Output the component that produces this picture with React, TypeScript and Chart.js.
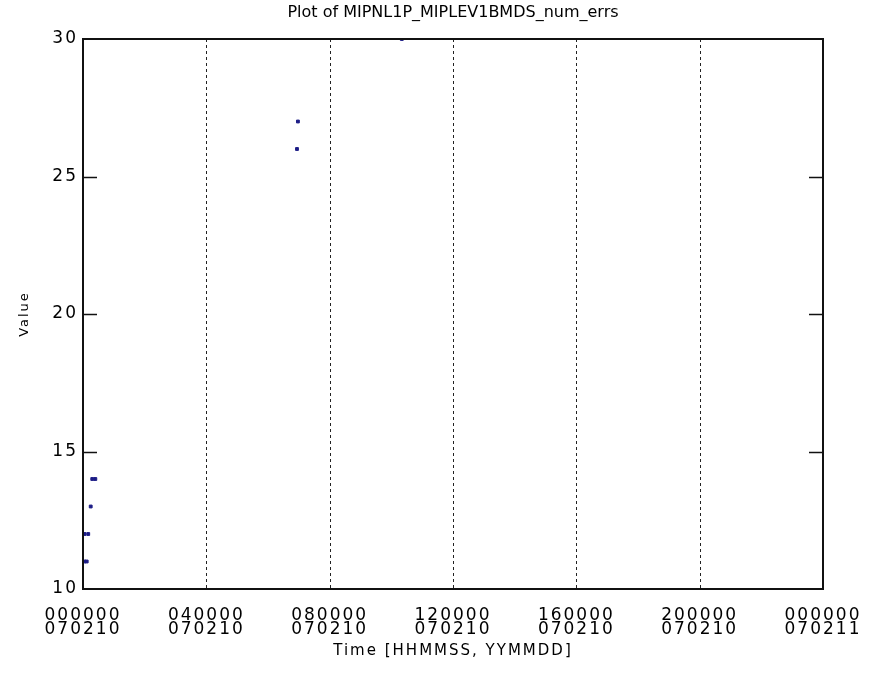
import React, { useEffect, useRef } from "react";
import { Chart, registerables } from "chart.js";

Chart.register(...registerables);

// Time in hours after 000000 on 070210
const pointHours: number[] = [0.05, 0.12, 0.05, 0.17, 0.25, 0.3, 0.4, 6.94, 6.97, 10.34];
const pointValues: number[] = [11, 11, 12, 12, 13, 14, 14, 26, 27, 30];
const xTickHours: number[] = [0, 4, 8, 12, 16, 20, 24];
const xTickLabels: string[][] = [
  ["000000", "070210"],
  ["040000", "070210"],
  ["080000", "070210"],
  ["120000", "070210"],
  ["160000", "070210"],
  ["200000", "070210"],
  ["000000", "070211"],
];
const yTicks: number[] = [10, 15, 20, 25, 30];
const titleText = "Plot of MIPNL1P_MIPLEV1BMDS_num_errs";
const xTitle = "Time [HHMMSS, YYMMDD]";
const yTitle = "Value";

const FONT = "'DejaVu Sans', sans-serif";

const framePlugin = {
  id: "frame",
  beforeDraw(chart: any) {
    chart.ctx.letterSpacing = "2px";
  },
  beforeDatasetsDraw(chart: any) {
    const { ctx, chartArea, scales } = chart;
    const { left, right, top, bottom } = chartArea;
    ctx.save();
    ctx.strokeStyle = "#222";
    ctx.lineWidth = 1;
    ctx.setLineDash([3, 3]);
    xTickHours.forEach((h) => {
      if (h === 0 || h === 24) return;
      const x = Math.round(scales.x.getPixelForValue(h)) + 0.5;
      ctx.beginPath();
      ctx.moveTo(x, top);
      ctx.lineTo(x, bottom);
      ctx.stroke();
    });
    ctx.setLineDash([]);
    ctx.strokeStyle = "#111";
    ctx.lineWidth = 1.5;
    yTicks.forEach((v) => {
      if (v === 10 || v === 30) return;
      const y = Math.round(scales.y.getPixelForValue(v)) + 0.5;
      ctx.beginPath();
      ctx.moveTo(left, y);
      ctx.lineTo(left + 14, y);
      ctx.moveTo(right, y);
      ctx.lineTo(right - 14, y);
      ctx.stroke();
    });
    ctx.restore();
  },
  afterDatasetsDraw(chart: any) {
    const { ctx, chartArea } = chart;
    const { left, right, top, bottom } = chartArea;
    ctx.save();
    ctx.strokeStyle = "#111";
    ctx.lineWidth = 2;
    ctx.strokeRect(left, top, right - left, bottom - top);
    ctx.restore();
  },
  afterDraw(chart: any) {
    const { ctx, chartArea } = chart;
    ctx.save();
    ctx.letterSpacing = "0px";
    ctx.fillStyle = "#000";
    ctx.font = `16px ${FONT}`;
    ctx.textAlign = "center";
    ctx.textBaseline = "middle";
    ctx.fillText(titleText, (chartArea.left + chartArea.right) / 2, 13);
    ctx.restore();
    ctx.letterSpacing = "0px";
  },
};

export default function App() {
  const ref = useRef<HTMLCanvasElement>(null);
  useEffect(() => {
    if (!ref.current) return;
    const chart = new Chart(ref.current, {
      type: "scatter",
      data: {
        datasets: [
          {
            data: pointHours.map((h, i) => ({ x: h, y: pointValues[i] })),
            backgroundColor: "#1c1c86",
            borderColor: "#1c1c86",
            pointRadius: 2,
            pointStyle: "rect",
            borderWidth: 1,
          },
        ],
      },
      options: {
        responsive: false,
        animation: false,
        devicePixelRatio: 1,
        layout: { padding: { left: 0, right: 50, top: 39, bottom: 0 } },
        plugins: {
          legend: { display: false },
          tooltip: { enabled: false },
          title: { display: false },
        },
        scales: {
          x: {
            type: "linear",
            min: 0,
            max: 24,
            afterFit: (s: any) => {
              s.height = 98;
              s.paddingLeft = 0;
              s.paddingRight = 0;
            },
            afterBuildTicks: (s: any) => {
              s.ticks = xTickHours.map((v) => ({ value: v }));
            },
            ticks: {
              color: "#000",
              font: { family: FONT, size: 17, lineHeight: 0.85 },
              padding: 19,
              maxRotation: 0,
              autoSkip: false,
              callback: (v: any) => {
                const i = xTickHours.indexOf(Number(v));
                return i >= 0 ? xTickLabels[i] : "";
              },
            },
            grid: { display: false, drawTicks: false },
            border: { display: false },
            title: {
              display: true,
              text: xTitle,
              color: "#000",
              font: { family: FONT, size: 15 },
              padding: { top: 0, bottom: 27 },
            },
          },
          y: {
            type: "linear",
            min: 10,
            max: 30,
            afterFit: (s: any) => {
              s.width = 83;
              s.paddingTop = 0;
              s.paddingBottom = 0;
            },
            afterBuildTicks: (s: any) => {
              s.ticks = yTicks.map((v) => ({ value: v }));
            },
            ticks: {
              color: "#000",
              font: { family: FONT, size: 17 },
              padding: 5,
            },
            grid: { display: false, drawTicks: false },
            border: { display: false },
            title: {
              display: true,
              text: yTitle,
              color: "#000",
              font: { family: FONT, size: 13 },
              padding: { top: 17, bottom: 0 },
            },
          },
        },
      },
      plugins: [framePlugin],
    });
    return () => chart.destroy();
  }, []);
  return (
    <div style={{ position: "absolute", left: 0, top: 0, width: 873, height: 687, background: "#fff" }}>
      <canvas ref={ref} width={873} height={687} />
    </div>
  );
}
